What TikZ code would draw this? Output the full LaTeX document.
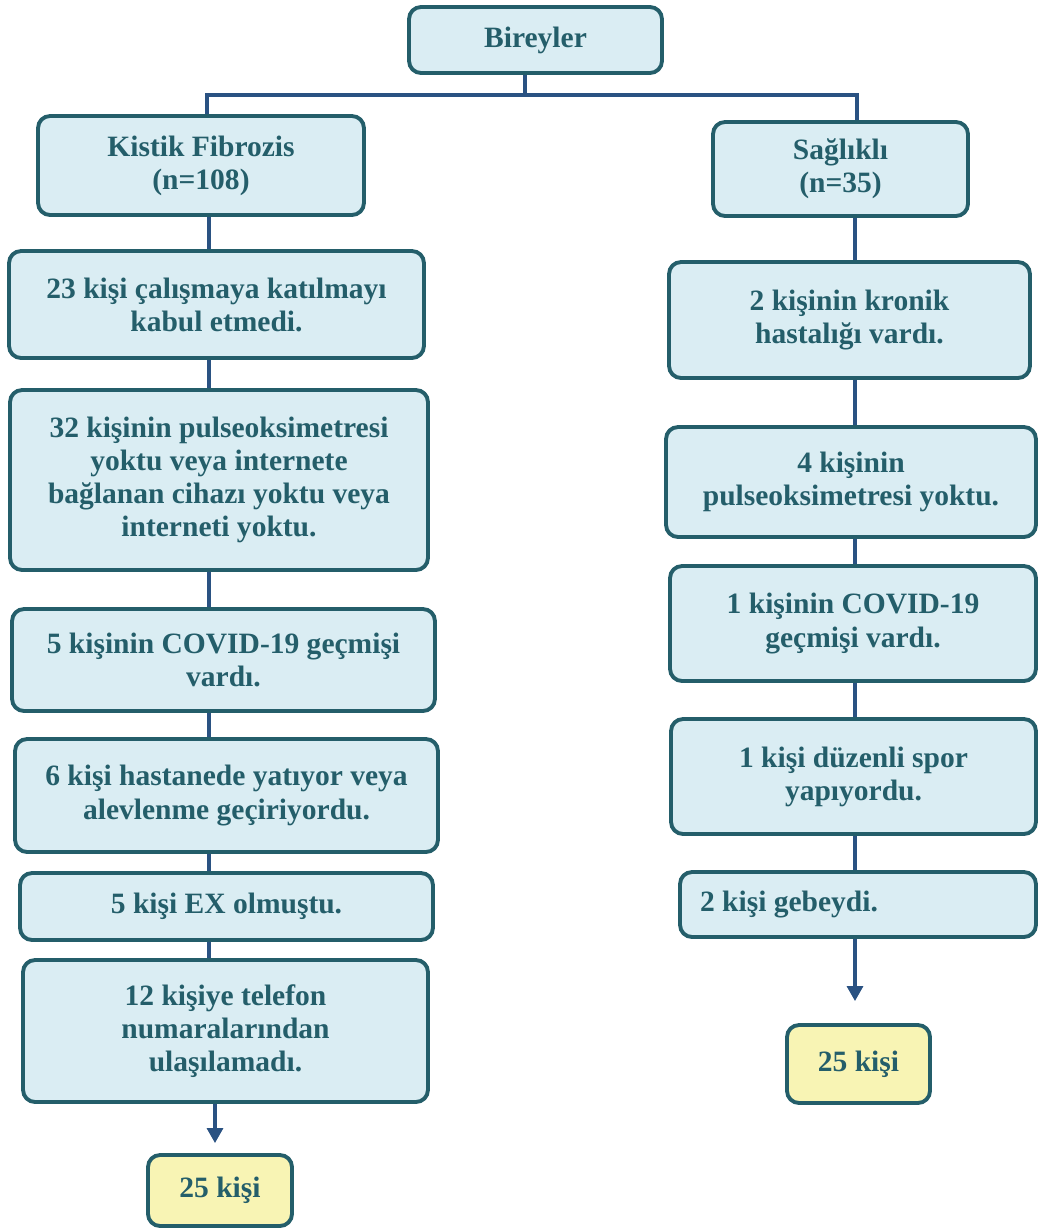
\documentclass[tikz,border=0pt]{standalone}
\usepackage{fontspec}
\setmainfont{Liberation Serif}
\usetikzlibrary{arrows.meta, positioning}
\definecolor{kteal}{HTML}{245E6A}
\definecolor{kpale}{HTML}{DAEDF3}
\definecolor{kline}{HTML}{2A5282}
\definecolor{kyellow}{HTML}{F8F4B4}

\begin{document}
\begin{tikzpicture}[x=0.02cm, y=-0.02cm,
  box/.style={draw=kteal, fill=kpale, line width=2.2pt, rounded corners=0.24cm,
    text=kteal, font=\fontsize{16.8}{18.8}\selectfont\bfseries, align=center, inner sep=0pt},
  endbox/.style={box, fill=kyellow},
  link/.style={kline, line width=1.8pt},
  arrow/.style={link, -{Triangle[length=0.3cm, width=0.32cm]}}]

  \useasboundingbox (0,0) rectangle (1039,1228);

  %% Top
  \node[box, minimum width=5.06cm, minimum height=1.32cm] (bir) at (535.5,40) {Bireyler};
  \node[box, minimum width=6.52cm, minimum height=1.98cm] (kf) at (201,165.5) {Kistik Fibrozis\\(n=108)};
  \node[box, minimum width=5.1cm, minimum height=1.88cm] (sag) at (840.5,169) {Sağlıklı\\(n=35)};

  %% Left column
  \node[box, minimum width=8.3cm, minimum height=2.14cm] (k23) at (216.5,304.5)
    {23 kişi çalışmaya katılmayı\\kabul etmedi.};
  \node[box, minimum width=8.36cm, minimum height=3.6cm] (k32) at (219,480)
    {32 kişinin pulseoksimetresi\\yoktu veya internete\\bağlanan cihazı yoktu veya\\interneti yoktu.};
  \node[box, minimum width=8.46cm, minimum height=2.04cm] (k5c) at (223.5,660)
    {5 kişinin COVID-19 geçmişi\\vardı.};
  \node[box, minimum width=8.46cm, minimum height=2.26cm] (k6) at (226.5,795.5)
    {6 kişi hastanede yatıyor veya\\alevlenme geçiriyordu.};
  \node[box, minimum width=8.26cm, minimum height=1.34cm] (k5ex) at (226.5,906.5)
    {5 kişi EX olmuştu.};
  \node[box, minimum width=8.1cm, minimum height=2.84cm] (k12) at (225.5,1031)
    {12 kişiye telefon\\numaralarından\\ulaşılamadı.};
  \node[endbox, minimum width=2.88cm, minimum height=1.42cm] (kend) at (220,1190.5) {25 kişi};

  %% Right column
  \node[box, minimum width=7.22cm, minimum height=2.32cm] (s2) at (849.5,320)
    {2 kişinin kronik\\hastalığı vardı.};
  \node[box, minimum width=7.4cm, minimum height=2.2cm] (s4) at (851,482)
    {4 kişinin\\pulseoksimetresi yoktu.};
  \node[box, minimum width=7.32cm, minimum height=2.3cm] (s1c) at (853,623.5)
    {1 kişinin COVID-19\\geçmişi vardı.};
  \node[box, minimum width=7.3cm, minimum height=2.3cm] (s1s) at (853.5,776.5)
    {1 kişi düzenli spor\\yapıyordu.};
  \node[box, minimum height=1.3cm, text width=6.32cm, inner xsep=0.4cm, align=flush left] (s2g) at (858,904.5)
    {2 kişi gebeydi.};
  \node[endbox, minimum width=2.86cm, minimum height=1.56cm] (send) at (858.5,1064) {25 kişi};

  %% Connectors
  \coordinate (split) at (525,95);
  \coordinate (trunkL) at (209,0);
  \coordinate (trunkR) at (855,0);
  \draw[link] (bir.south -| split) -- (split);
  \draw[link] (kf.north -| 207,0) |- (split) -| (sag.north -| 857,0);
  \foreach \a/\b in {kf/k23, k23/k32, k32/k5c, k5c/k6, k6/k5ex, k5ex/k12}{
    \draw[link] (\a.south -| trunkL) -- (\b.north -| trunkL);
  }
  \foreach \a/\b in {sag/s2, s2/s4, s4/s1c, s1c/s1s, s1s/s2g}{
    \draw[link] (\a.south -| trunkR) -- (\b.north -| trunkR);
  }
  \draw[arrow, shorten >=0.2cm] (k12.south -| 215,0) -- (kend.north -| 215,0);
  \draw[arrow, shorten >=0.44cm] (s2g.south -| trunkR) -- (send.north -| trunkR);

\end{tikzpicture}
\end{document}
